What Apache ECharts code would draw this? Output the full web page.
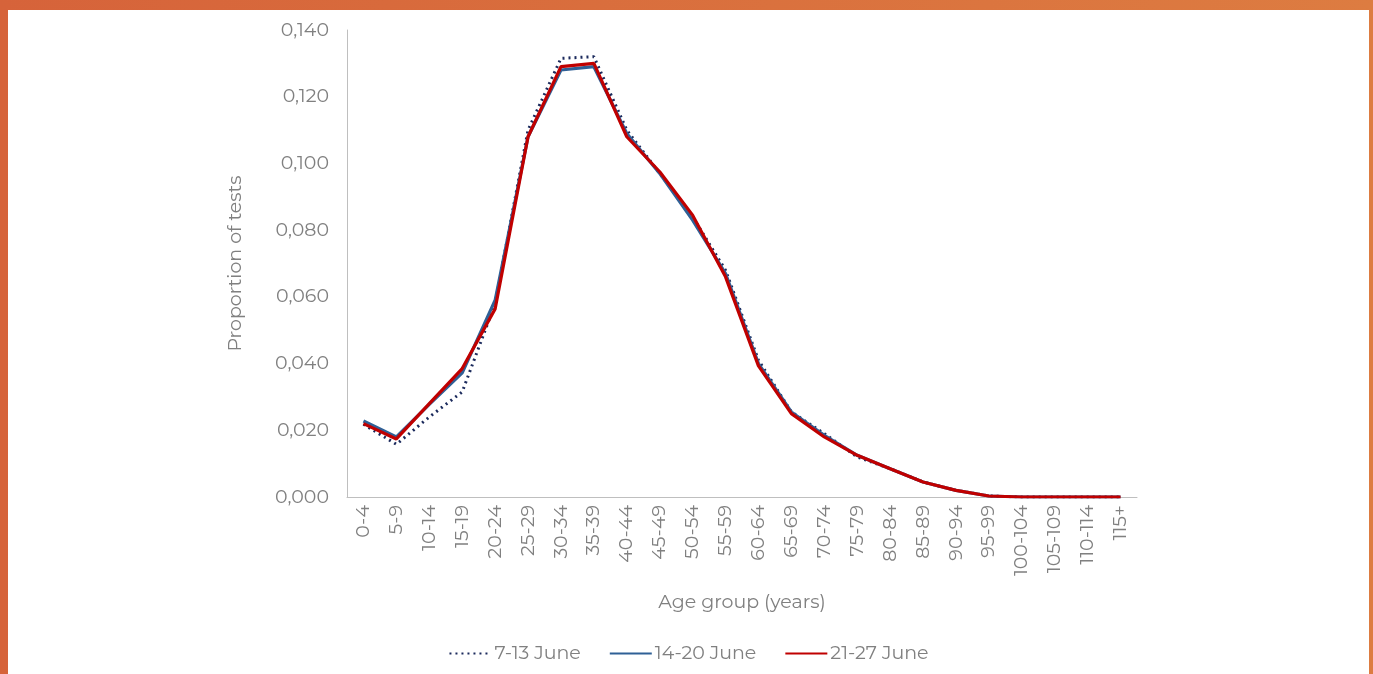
<!DOCTYPE html>
<html>
<head>
<meta charset="utf-8">
<script src="https://cdn.jsdelivr.net/npm/echarts@6/dist/echarts.min.js"></script>
<style>
  html, body { margin: 0; padding: 0; }
  body { width: 1373px; height: 674px; background: linear-gradient(90deg, #d6633a, #dd7c41); position: relative; overflow: hidden; }
  #chart { position: absolute; left: 8px; top: 10px; width: 1361px; height: 664px; background: #fff; }
</style>
</head>
<body>
<div id="chart"></div>
<script>
// 年龄组
const ageGroups = ['0-4', '5-9', '10-14', '15-19', '20-24', '25-29', '30-34', '35-39', '40-44', '45-49',
  '50-54', '55-59', '60-64', '65-69', '70-74', '75-79', '80-84', '85-89', '90-94', '95-99',
  '100-104', '105-109', '110-114', '115+'];

const june7to13 = [0.0218, 0.0158, 0.0240, 0.0315, 0.0580, 0.1100, 0.1315, 0.1320, 0.1100, 0.0970,
  0.0840, 0.0680, 0.0410, 0.0255, 0.0190, 0.0120, 0.0085, 0.0045, 0.0020, 0.0003,
  0.0000, 0.0000, 0.0000, 0.0000];

const june14to20 = [0.0228, 0.0180, 0.0278, 0.0372, 0.0590, 0.1080, 0.1280, 0.1290, 0.1090, 0.0970,
  0.0830, 0.0670, 0.0400, 0.0255, 0.0185, 0.0125, 0.0085, 0.0045, 0.0020, 0.0003,
  0.0000, 0.0000, 0.0000, 0.0000];

const june21to27 = [0.0220, 0.0174, 0.0280, 0.0385, 0.0564, 0.1080, 0.1290, 0.1300, 0.1080, 0.0975,
  0.0845, 0.0660, 0.0393, 0.0250, 0.0180, 0.0125, 0.0085, 0.0045, 0.0020, 0.0003,
  0.0000, 0.0000, 0.0000, 0.0000];

const seriesNames = ['7-13 June', '14-20 June', '21-27 June'];

const chart = echarts.init(document.getElementById('chart'));
const font = 'Montserrat, "Open Sans", "Noto Sans", sans-serif';
const grey = '#808080';
const fs = 19;

chart.setOption({
  animation: false,
  textStyle: { fontFamily: font },
  grid: { left: 339, right: 232, top: 20, bottom: 177 },
  legend: {
    bottom: 6,
    left: 'center',
    itemWidth: 42,
    itemHeight: 3,
    itemGap: 28,
    textStyle: { color: grey, fontSize: fs, fontFamily: font, padding: [0, 0, 0, -2] },
    itemStyle: { opacity: 0 },
    data: seriesNames
  },
  xAxis: {
    type: 'category',
    data: ageGroups,
    boundaryGap: true,
    name: 'Age group (years)',
    nameLocation: 'middle',
    nameGap: 96,
    nameTextStyle: { color: grey, fontSize: fs },
    axisLine: { lineStyle: { color: '#bfbfbf' } },
    axisTick: { show: false },
    axisLabel: { rotate: 90, color: grey, fontSize: fs, interval: 0, margin: 8 }
  },
  yAxis: {
    type: 'value',
    min: 0,
    max: 0.14,
    interval: 0.02,
    name: 'Proportion of tests',
    nameLocation: 'middle',
    nameGap: 102,
    nameRotate: 90,
    nameTextStyle: { color: grey, fontSize: fs },
    axisLine: { show: true, lineStyle: { color: '#bfbfbf' } },
    axisTick: { show: false },
    splitLine: { show: false },
    axisLabel: {
      color: grey,
      fontSize: fs,
      margin: 18,
      formatter: v => v.toFixed(3).replace('.', ',')
    }
  },
  series: [
    {
      name: seriesNames[0],
      type: 'line',
      data: june7to13,
      symbol: 'none',
      lineStyle: { color: '#1b2a5c', width: 3, type: [2, 4] },
      itemStyle: { color: '#1b2a5c' }
    },
    {
      name: seriesNames[1],
      type: 'line',
      data: june14to20,
      symbol: 'none',
      lineStyle: { color: '#2f6096', width: 3.2 },
      itemStyle: { color: '#2f6096' }
    },
    {
      name: seriesNames[2],
      type: 'line',
      data: june21to27,
      symbol: 'none',
      lineStyle: { color: '#c00000', width: 3.2 },
      itemStyle: { color: '#c00000' }
    }
  ]
});
</script>
</body>
</html>
